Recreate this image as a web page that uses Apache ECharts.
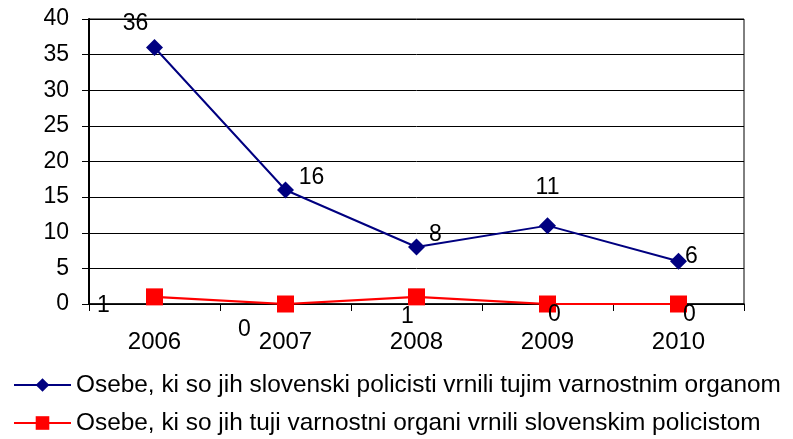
<!DOCTYPE html>
<html><head><meta charset="utf-8">
<script src="https://cdn.jsdelivr.net/npm/echarts@6/dist/echarts.min.js"></script>
<style>html,body{margin:0;padding:0;background:#fff}#c{width:793px;height:439px}</style>
</head><body><div id="c"></div>
<script>
const years = ['2006','2007','2008','2009','2010'];
const returnedAbroad = [36,16,8,11,6];
const returnedToSlovenia = [1,0,1,0,0];
const nameA = 'Osebe, ki so jih slovenski policisti vrnili tujim varnostnim organom';
const nameB = 'Osebe, ki so jih tuji varnostni organi vrnili slovenskim policistom';
const offA = [[-19,-24],[26,-12],[19,-12],[0,-38],[13,-5]];
const offB = [[-51,9],[-41,26],[-9,20],[7,11],[11,11]];
const F = 'Liberation Sans, Arial, sans-serif';
const lbl = (o) => ({show:true, position:'inside', offset:o, color:'#000', fontSize:23, fontFamily:F});
const legendBase = {orient:'horizontal',left:13,padding:0,itemWidth:57,itemHeight:17,
  textStyle:{fontSize:24.4,fontFamily:F,color:'#000'}};
const chart = echarts.init(document.getElementById('c'));
chart.setOption({
  animation:false,
  grid:{left:89,right:49,top:19,bottom:135,show:true,borderColor:'#000',borderWidth:1},
  legend:[
    Object.assign({}, legendBase, {top:373, data:[nameA]}),
    Object.assign({}, legendBase, {top:411, data:[nameB]})
  ],
  xAxis:{type:'category',data:years,boundaryGap:true,
    axisLine:{lineStyle:{color:'#000',width:1.5}},
    axisTick:{show:true,length:7,lineStyle:{color:'#000'}},
    axisLabel:{color:'#000',fontSize:24,fontFamily:F,margin:26}},
  yAxis:{type:'value',min:0,max:40,interval:5,
    axisLine:{show:true,lineStyle:{color:'#000',width:2}},
    axisTick:{show:true,length:7,lineStyle:{color:'#000'}},
    axisLabel:{color:'#000',fontSize:23,fontFamily:F,margin:20},
    splitLine:{lineStyle:{color:'#000',width:1}}},
  series:[
    {name:nameA,type:'line',data:returnedAbroad.map((v,i)=>({value:v,label:lbl(offA[i])})),
     color:'#000080',lineStyle:{width:2,color:'#000080'},symbol:'diamond',symbolSize:17,
     itemStyle:{color:'#000080'}},
    {name:nameB,type:'line',data:returnedToSlovenia.map((v,i)=>({value:v,label:lbl(offB[i])})),
     color:'#ff0000',lineStyle:{width:2.2,color:'#ff0000'},symbol:'rect',symbolSize:17,
     itemStyle:{color:'#ff0000'}}
  ]
});
</script></body></html>
